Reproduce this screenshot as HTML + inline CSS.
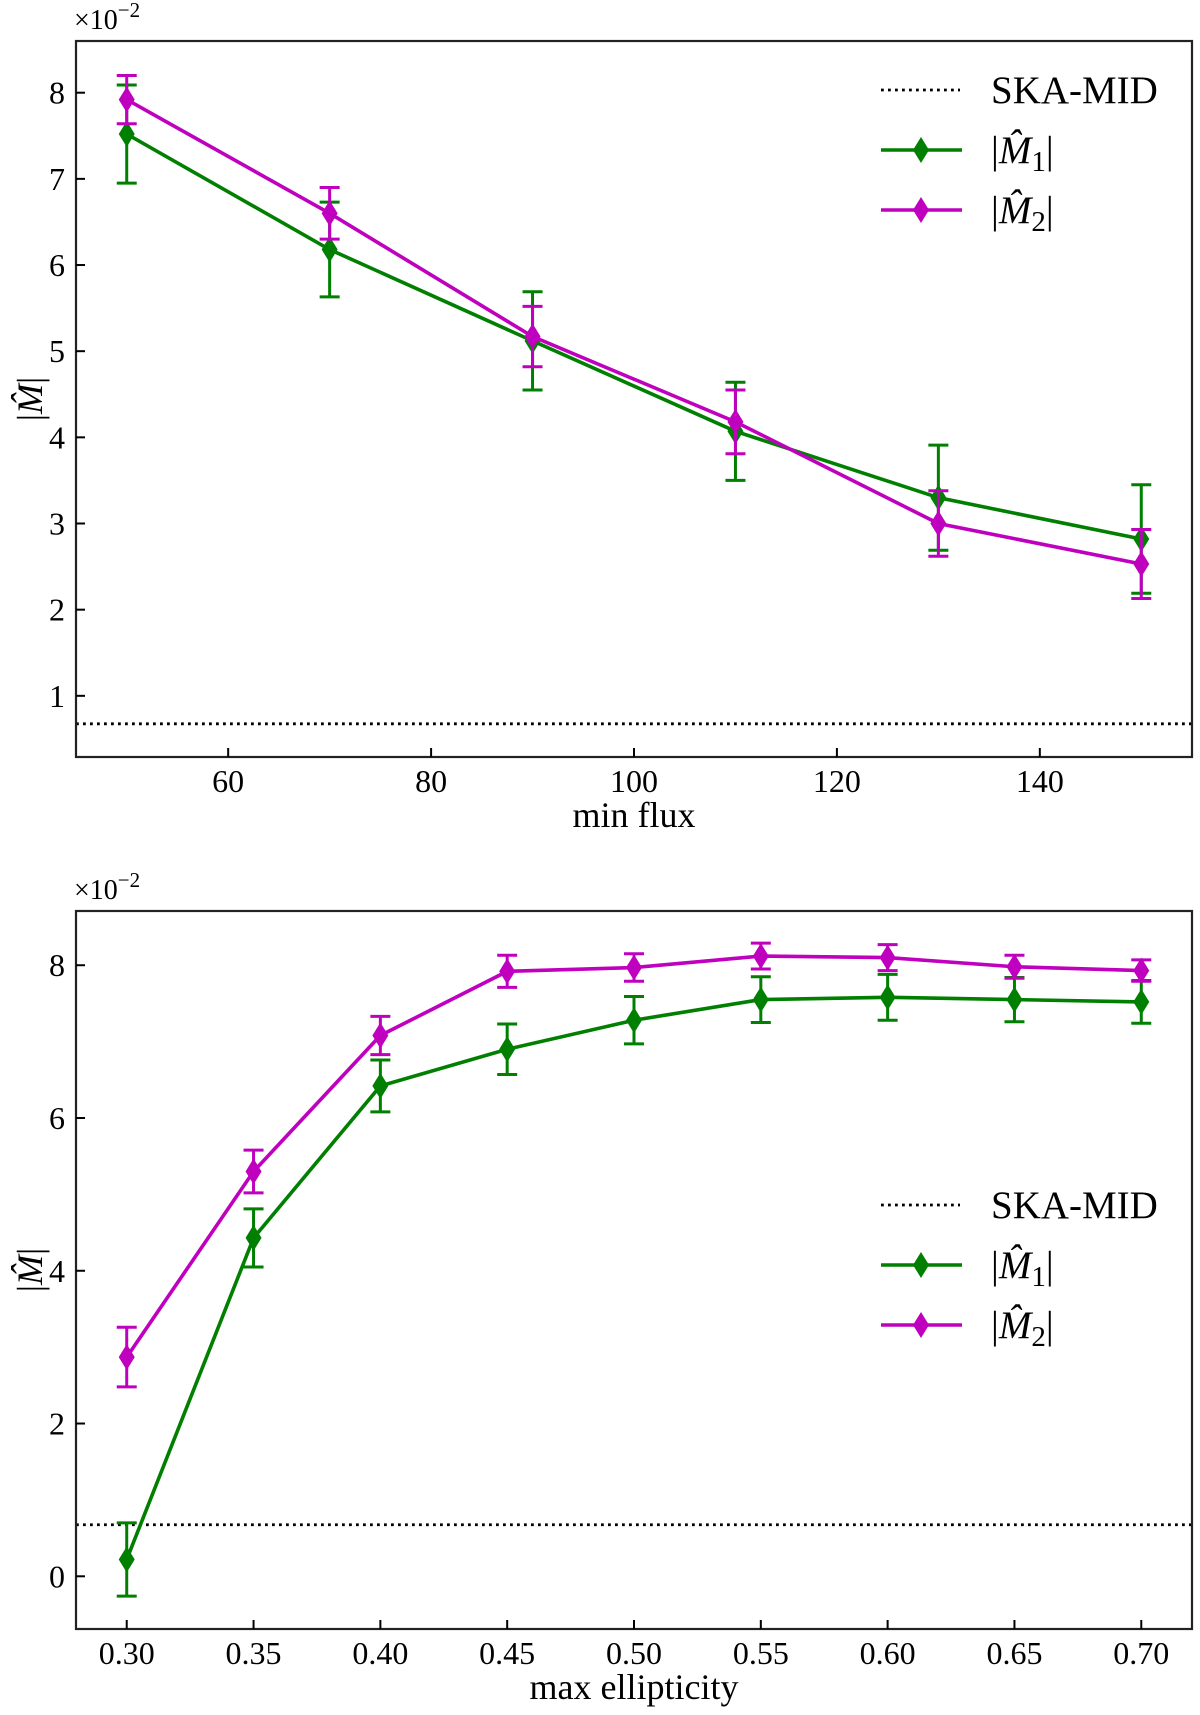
<!DOCTYPE html>
<html><head><meta charset="utf-8"><style>
body{margin:0;background:#fff}
svg text{font-family:"Liberation Serif","DejaVu Serif",serif;fill:#000}
</style></head><body>
<svg id="chart" width="1200" height="1710" viewBox="0 0 1200 1710" xmlns="http://www.w3.org/2000/svg"></svg>
<script>
const fluxX=[50,70,90,110,130,150];
const fluxM1=[7.52,6.18,5.12,4.07,3.30,2.82];
const fluxM1Err=[0.57,0.55,0.57,0.57,0.61,0.63];
const fluxM2=[7.92,6.60,5.17,4.18,3.00,2.53];
const fluxM2Err=[0.28,0.30,0.35,0.37,0.38,0.40];
const fluxXTicks=[60,80,100,120,140];
const fluxYTicks=[1,2,3,4,5,6,7,8];
const ellX=[0.30,0.35,0.40,0.45,0.50,0.55,0.60,0.65,0.70];
const ellM1=[0.22,4.43,6.42,6.90,7.28,7.55,7.58,7.55,7.52];
const ellM1Err=[0.48,0.38,0.34,0.33,0.31,0.30,0.30,0.29,0.28];
const ellM2=[2.87,5.30,7.08,7.92,7.97,8.12,8.10,7.98,7.93];
const ellM2Err=[0.39,0.28,0.25,0.21,0.18,0.17,0.17,0.15,0.14];
const ellXTicks=[0.30,0.35,0.40,0.45,0.50,0.55,0.60,0.65,0.70];
const ellYTicks=[0,2,4,6,8];
const skaLevel=0.675;

const svg=document.getElementById('chart');
const NS='http://www.w3.org/2000/svg';
function mk(tag,attrs,parent){const e=document.createElementNS(NS,tag);for(const k in attrs)e.setAttribute(k,attrs[k]);(parent||svg).appendChild(e);return e;}

function panel(cfg){
  const g=mk('g',{});
  
  
  const L=76,R=1192,T=cfg.top,B=cfg.bottom;
  const sx=v=>L+(v-cfg.xmin)/(cfg.xmax-cfg.xmin)*(R-L);
  const sy=v=>B-(v-cfg.ymin)/(cfg.ymax-cfg.ymin)*(B-T);
  const ska=mk('line',{x1:L,x2:R,y1:sy(skaLevel),y2:sy(skaLevel),stroke:'#000','stroke-width':2.8,'stroke-dasharray':'2.8,4.2'},g);
  
  
  function series(xs,ys,es,color,nm){
    const sg=mk('g',{},g);
    
    
    xs.forEach((x,i)=>{
      const X=sx(x),y1=sy(ys[i]-es[i]),y2=sy(ys[i]+es[i]);
      mk('line',{x1:X,x2:X,y1:y1,y2:y2,stroke:color,'stroke-width':3},sg);
      mk('line',{x1:X-10,x2:X+10,y1:y1,y2:y1,stroke:color,'stroke-width':3},sg);
      mk('line',{x1:X-10,x2:X+10,y1:y2,y2:y2,stroke:color,'stroke-width':3},sg);
    });
    mk('polyline',{points:xs.map((x,i)=>sx(x)+','+sy(ys[i])).join(' '),fill:'none',stroke:color,'stroke-width':3.6},sg);
    xs.forEach((x,i)=>{
      const X=sx(x),Y=sy(ys[i]);
      const d=mk('polygon',{points:`${X},${Y-13} ${X+8},${Y} ${X},${Y+13} ${X-8},${Y}`,fill:color},sg);
      
      
    });
  }
  series(cfg.x,cfg.m1,cfg.e1,'#007f00','series-m1');
  series(cfg.x,cfg.m2,cfg.e2,'#bf00bf','series-m2');
  const fr=mk('rect',{x:L,y:T,width:R-L,height:B-T,fill:'none',stroke:'#222','stroke-width':2.2},g);
  
  
  cfg.xt.forEach(v=>{
    const X=sx(v);
    mk('line',{x1:X,x2:X,y1:B,y2:B-9,stroke:'#000','stroke-width':2},g);
    const t=mk('text',{x:X,y:B+35,'text-anchor':'middle','font-size':32},g);
    t.textContent=cfg.xfmt(v);
    
    
  });
  cfg.yt.forEach(v=>{
    const Y=sy(v);
    mk('line',{x1:L,x2:L+9,y1:Y,y2:Y,stroke:'#000','stroke-width':2},g);
    const t=mk('text',{x:L-11,y:Y+11,'text-anchor':'end','font-size':32},g);
    t.textContent=String(v);
    
    
  });
  const off=mk('text',{x:L-2,y:T-12,'font-size':28},g);
  off.innerHTML='×10<tspan dy="-12" font-size="21">−2</tspan>';
  
  
  const xl=mk('text',{x:(L+R)/2,y:B+70,'text-anchor':'middle','font-size':36},g);
  xl.textContent=cfg.xlabel;
  
  
  const yl=mk('text',{x:0,y:0,'text-anchor':'middle','font-size':36,transform:`translate(42,${(T+B)/2}) rotate(-90)`},g);
  yl.innerHTML='|<tspan font-style="italic">M̂</tspan>|';
  
  
  const lg=mk('g',{},g);
  
  
  const ly=cfg.legY;
  mk('line',{x1:881,x2:960,y1:ly,y2:ly,stroke:'#000','stroke-width':2.8,'stroke-dasharray':'2.8,4.2'},lg);
  let t=mk('text',{x:991,y:ly+13,'font-size':39},lg);t.textContent='SKA-MID';
  [['#007f00','1'],['#bf00bf','2']].forEach((c,i)=>{
    const y=ly+60*(i+1);
    mk('line',{x1:881,x2:962,y1:y,y2:y,stroke:c[0],'stroke-width':3.6},lg);
    mk('polygon',{points:`921,${y-13} 929,${y} 921,${y+13} 913,${y}`,fill:c[0]},lg);
    const tt=mk('text',{x:991,y:y+13,'font-size':39},lg);
    tt.innerHTML=`|<tspan font-style="italic">M̂</tspan><tspan dy="8" font-size="29">${c[1]}</tspan><tspan dy="-8">|</tspan>`;
    
    
  });
}
panel({name:'min-flux-panel',top:41,bottom:757,xmin:45,xmax:155,ymin:0.29,ymax:8.6,
  x:fluxX,m1:fluxM1,e1:fluxM1Err,m2:fluxM2,e2:fluxM2Err,xt:fluxXTicks,yt:fluxYTicks,
  xfmt:v=>String(v),xlabel:'min flux',legY:90});
panel({name:'max-ellipticity-panel',top:911,bottom:1629,xmin:0.28,xmax:0.72,ymin:-0.69,ymax:8.71,
  x:ellX,m1:ellM1,e1:ellM1Err,m2:ellM2,e2:ellM2Err,xt:ellXTicks,yt:ellYTicks,
  xfmt:v=>v.toFixed(2),xlabel:'max ellipticity',legY:1205});
</script>
</body></html>
